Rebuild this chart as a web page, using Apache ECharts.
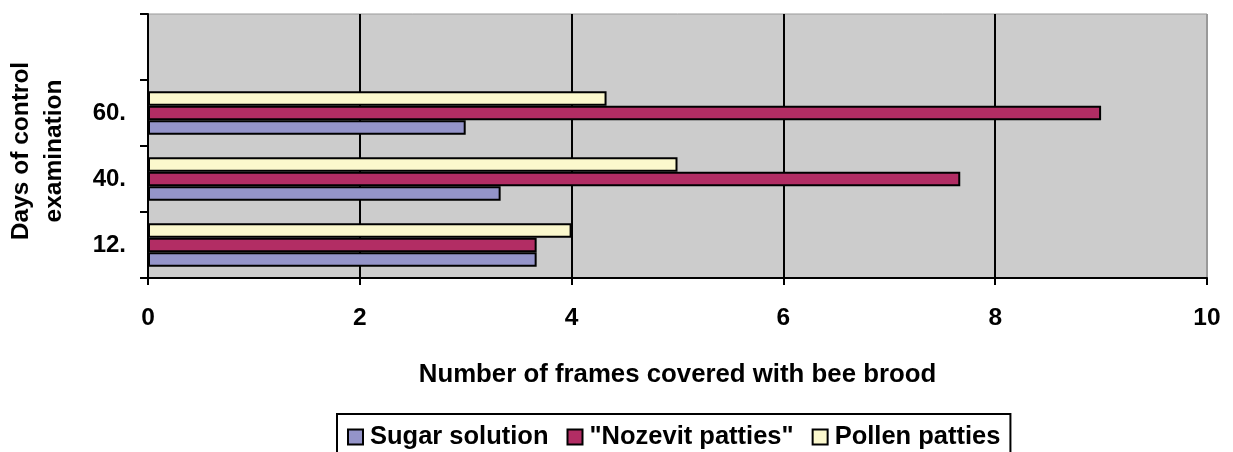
<!DOCTYPE html>
<html>
<head>
<meta charset="utf-8">
<script src="https://cdn.jsdelivr.net/npm/echarts@6/dist/echarts.min.js"></script>
<style>
html,body{margin:0;padding:0;background:#fff;}
#chart{width:1233px;height:452px;}
</style>
</head>
<body>
<div id="chart"></div>
<script>
var categories = ['12.', '40.', '60.', ''];
var sugarSolution = [3.67, 3.33, 3.0];
var nozevitPatties = [3.67, 7.67, 9.0];
var pollenPatties = [4.0, 5.0, 4.33];
var seriesNames = ['Sugar solution', '"Nozevit patties"', 'Pollen patties'];
var xTicks = { min: 0, max: 10, interval: 2 };

var FONT = '"Liberation Sans", Arial, sans-serif';
var chart = echarts.init(document.getElementById('chart'), null, { renderer: 'canvas' });

function barSeries(name, data, color) {
  return {
    name: name,
    type: 'bar',
    data: data,
    barWidth: 14.5,
    barGap: '0%',
    itemStyle: { color: color, borderColor: '#000', borderWidth: 2 },
    emphasis: { disabled: true }
  };
}

chart.setOption({
  animation: false,
  backgroundColor: '#ffffff',
  textStyle: { fontFamily: FONT },
  grid: {
    left: 148, right: 26, top: 14, bottom: 174,
    outerBoundsMode: 'none',
    containLabel: false,
    show: true, backgroundColor: '#cccccc', borderColor: '#999999', borderWidth: 1
  },
  legend: {
    data: seriesNames,
    left: 337,
    top: 414,
    itemWidth: 15,
    itemHeight: 15,
    itemGap: 18,
    icon: 'rect',
    backgroundColor: '#ffffff',
    borderColor: '#000',
    borderWidth: 2,
    borderRadius: 0,
    padding: [10, 10, 30, 10],
    itemStyle: { borderColor: '#000', borderWidth: 2 },
    textStyle: { fontFamily: FONT, fontSize: 25.5, fontWeight: 'bold', color: '#000', padding: [0, 0, 0, 2] }
  },
  xAxis: {
    type: 'value',
    min: xTicks.min, max: xTicks.max, interval: xTicks.interval,
    name: 'Number of frames covered with bee brood',
    nameLocation: 'middle',
    nameGap: 84,
    nameMoveOverlap: false,
    nameTextStyle: { fontFamily: FONT, fontSize: 25.8, fontWeight: 'bold', color: '#000' },
    axisLine: { show: true, lineStyle: { color: '#000', width: 2 } },
    axisTick: { show: true, length: 7, lineStyle: { color: '#000', width: 2 } },
    axisLabel: { margin: 28, fontFamily: FONT, fontSize: 24.5, fontWeight: 'bold', color: '#000' },
    splitLine: { show: true, lineStyle: { color: ['#000', '#000', '#000', '#000', '#000', '#999'], width: 2 } }
  },
  yAxis: {
    type: 'category',
    data: categories,
    name: 'Days of control\nexamination',
    nameLocation: 'middle',
    nameRotate: 90,
    nameGap: 110,
    nameMoveOverlap: false,
    nameTextStyle: { fontFamily: FONT, fontSize: 24.5, fontWeight: 'bold', color: '#000', lineHeight: 33, align: 'center', verticalAlign: 'middle', padding: [0, 10, 0, 0] },
    axisLine: { show: true, lineStyle: { color: '#000', width: 2 } },
    axisTick: { show: true, length: 8, lineStyle: { color: '#000', width: 2 } },
    axisLabel: { margin: 22, fontFamily: FONT, fontSize: 24, fontWeight: 'bold', color: '#000' },
    splitLine: { show: false }
  },
  series: [
    barSeries(seriesNames[2], pollenPatties, '#fbf8cd'),
    barSeries(seriesNames[1], nozevitPatties, '#b22d64'),
    barSeries(seriesNames[0], sugarSolution, '#9494c9')
  ]
});
</script>
</body>
</html>
